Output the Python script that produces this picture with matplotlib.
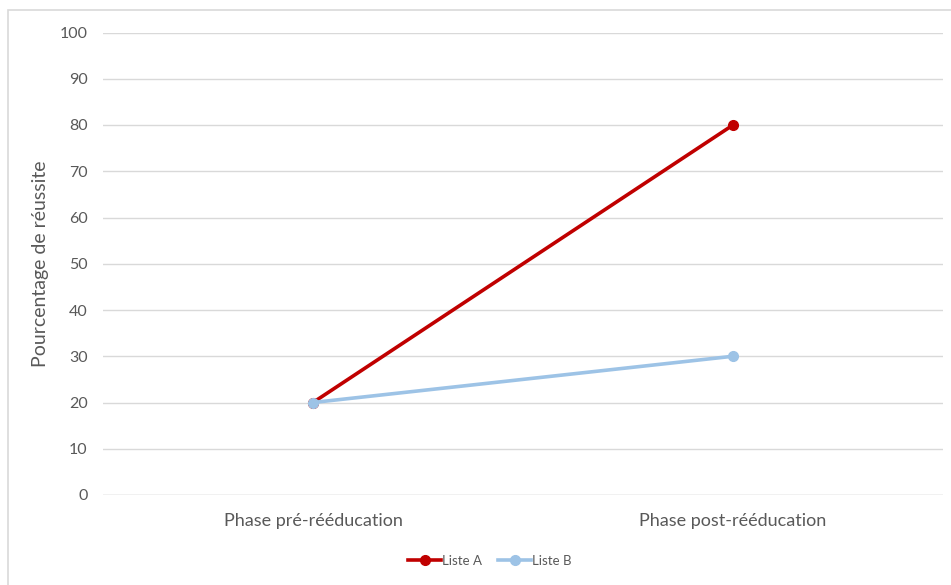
import matplotlib.pyplot as plt
from matplotlib.patches import Rectangle

# taux de réussite par phase
phases = ["Phase pré-rééducation", "Phase post-rééducation"]
liste_a = [20, 80]
liste_b = [20, 30]
yticks = list(range(0, 101, 10))

plt.rcParams['font.family'] = ['Lato', 'DejaVu Sans']
gris = '#595959'

fig = plt.figure(figsize=(9.51, 5.85), dpi=100)
ax = fig.add_axes([103 / 951, 90 / 585, 840 / 951, 462.5 / 585])

x = range(len(phases))
ax.plot(x, liste_a, color='#C00000', lw=2.6, marker='o', ms=7, label='Liste A', zorder=3)
ax.plot(x, liste_b, color='#9DC3E6', lw=2.6, marker='o', ms=7, label='Liste B', zorder=3)

ax.set_xlim(-0.5, 1.5)
ax.set_ylim(0, 100)
ax.set_yticks(yticks)
ax.set_xticks(list(x))
ax.set_xticklabels(phases, fontsize=13, color=gris)
ax.tick_params(axis='y', labelsize=11.5, labelcolor=gris, length=0, pad=11)
ax.tick_params(axis='x', length=0, pad=13)
ax.yaxis.grid(True, color='#D9D9D9', lw=1)
ax.set_axisbelow(True)
for s in ax.spines.values():
    s.set_visible(False)
ax.axhline(0, color='#D9D9D9', lw=1, zorder=1)

ax.set_ylabel('Pourcentage de réussite', fontsize=14, color=gris, labelpad=8)

leg = fig.legend(loc='center', bbox_to_anchor=(490 / 951, 1 - 561 / 585), ncol=2,
                 frameon=False, fontsize=9.5, handlelength=2.5, columnspacing=1.2,
                 handletextpad=0.1, labelcolor=gris)

# cadre du graphique
fig.patches.append(Rectangle((7.5 / 951, -0.05), 1.1, 1 - 9.5 / 585 + 0.05,
                             transform=fig.transFigure, fill=False,
                             edgecolor='#D9D9D9', lw=1.2))

fig.savefig('out.png', dpi=100)
